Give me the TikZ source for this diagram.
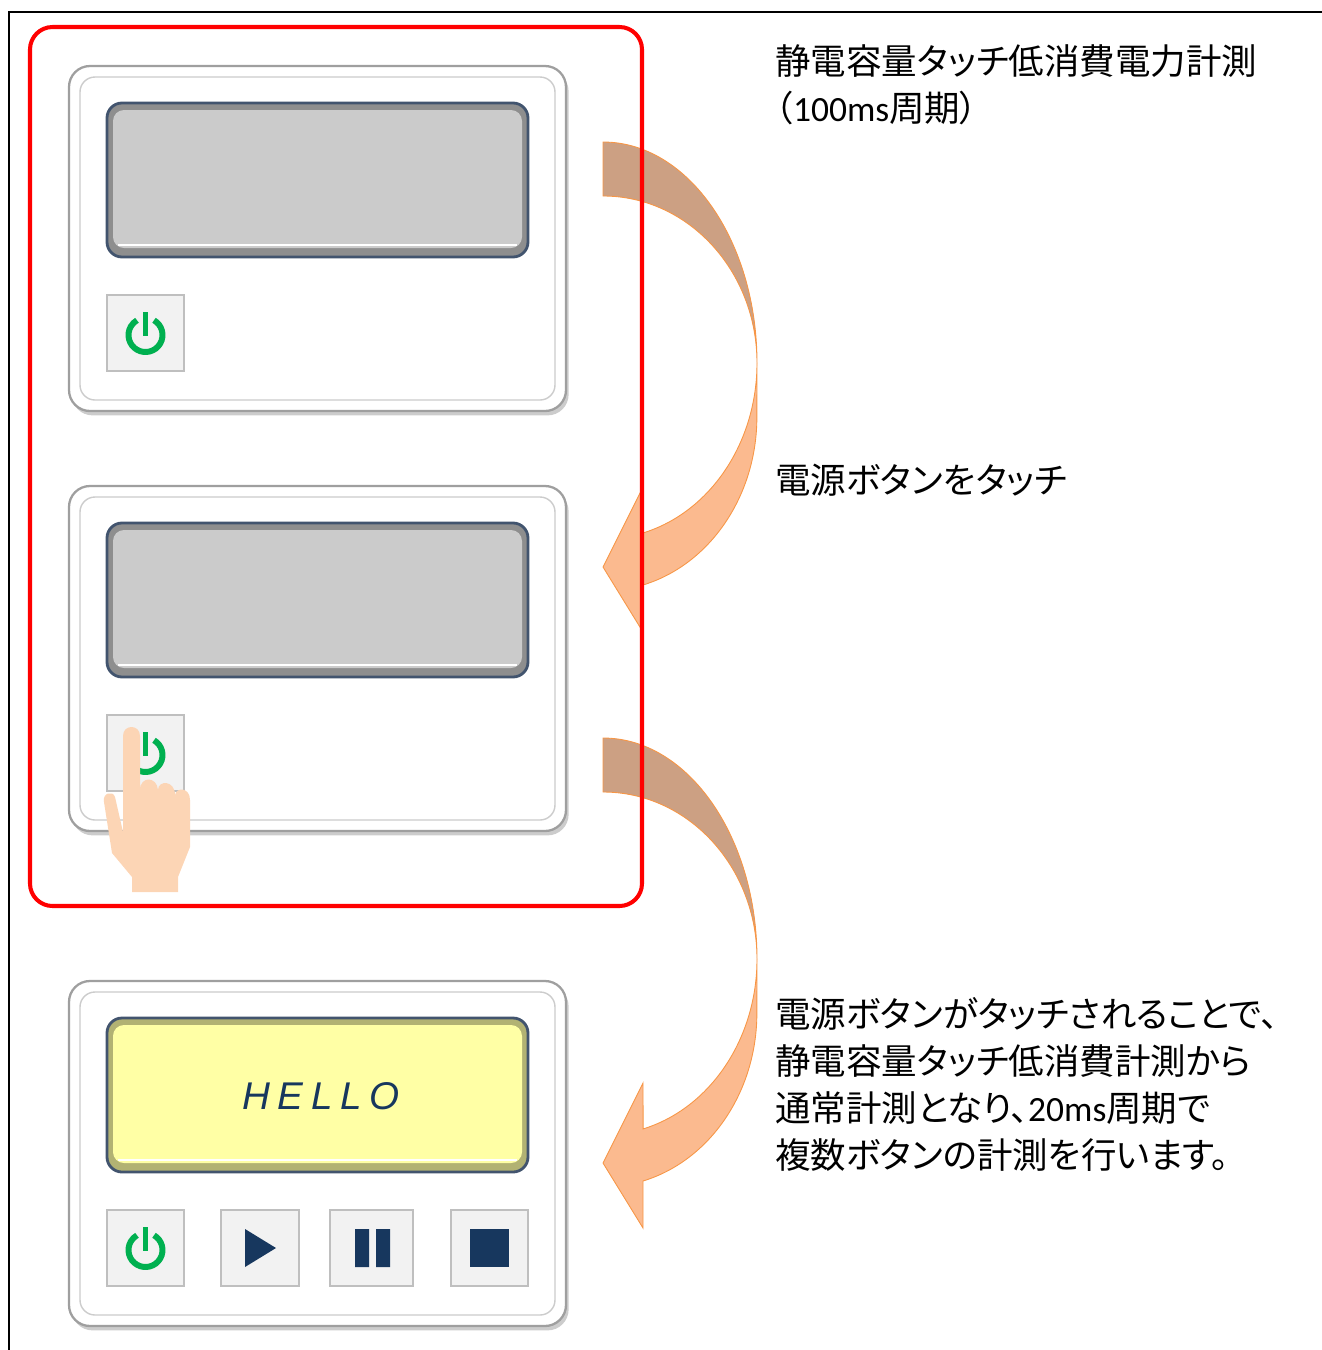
\documentclass[tikz,border=0pt]{standalone}
\usepackage{fontspec}
\newfontfamily\jpfont[RawFeature={+palt}]{Noto Sans CJK JP}
\newfontfamily\latinfont{Carlito}
\newfontfamily\lcdfont[LetterSpace=20]{Liberation Sans}
\usetikzlibrary{shadows}

\definecolor{lcdgray}{RGB}{203,203,203}
\definecolor{lcdyellow}{RGB}{255,255,165}
\definecolor{lcdrim}{RGB}{66,84,110}
\definecolor{keyfill}{RGB}{242,242,242}
\definecolor{keyline}{RGB}{191,191,191}
\definecolor{powergreen}{RGB}{0,176,80}
\definecolor{navy}{RGB}{23,55,94}
\definecolor{skin}{RGB}{252,213,181}
\definecolor{arrowback}{RGB}{204,160,131}
\definecolor{arrowfront}{RGB}{251,186,143}
\definecolor{arrowline}{RGB}{247,150,70}

\tikzset{
  case/.style={fill=white, draw=gray!75, line width=1.3pt, rounded corners=0.42cm,
    drop shadow={shadow xshift=1.5pt, shadow yshift=-2.5pt, opacity=0.4}},
  caseinner/.style={draw=gray!40, line width=0.8pt, rounded corners=0.3cm},
  key/.style={fill=keyfill, draw=keyline, line width=1.6pt},
  glyph/.style={fill=navy},
  power/.style={draw=powergreen, line width=3.4pt},
  bigarrow/.style={draw=arrowline, line width=0.5pt},
  note/.style={font=\jpfont\fontsize{20.2pt}{24pt}\selectfont, anchor=base west, inner sep=0pt,
    text height=15pt, text depth=3pt},
}

\begin{document}
\begin{tikzpicture}[x=0.02cm, y=-0.02cm]
\useasboundingbox (0,0) rectangle (1322,1350);
% page frame
\draw[line width=1.1pt] (9,1350) -- (9,12) -- (1322,12);

% curved arrows between the stages
\foreach \y in {0,596} {
\begin{scope}[shift={(0,\y)}]
\filldraw[bigarrow, fill=arrowback] (603,142) arc[start angle=-90, end angle=0, x radius=154, y radius=221]
  arc[start angle=0, end angle=-90, x radius=154, y radius=167] -- cycle;
\filldraw[bigarrow, fill=arrowfront] (757,363) arc[start angle=0, end angle=74.9, x radius=154, y radius=176]
  -- (643,487) -- (603,567) -- (643,632) -- (643,585)
  arc[start angle=74.9, end angle=0, x radius=154, y radius=174] -- cycle;
\end{scope}
}

% the three panels with display and power key
\foreach \y/\c in {0/lcdgray, 420/lcdgray, 915/lcdyellow} {
\begin{scope}[shift={(0,\y)}]
\draw[case] (69,66) rectangle (566,411);
\draw[caseinner] (80,77) rectangle (555,400);
\draw[fill=\c!70!black, draw=lcdrim, line width=1.6pt, rounded corners=0.3cm] (107,103) rectangle (528,257);
\fill[\c, rounded corners=0.22cm] (113,110) rectangle (522,248);
\draw[white, line width=1pt] (118,245) -- (517,245);
\draw[key] (107,295) rectangle (184,371);
\draw[power] (145.5,335) ++(-60:17) arc[start angle=-60, end angle=240, radius=17];
\draw[power] (145.5,312) -- (145.5,336);
\end{scope}
}

% keys of the running panel
\draw[key] (221,1210) rectangle (299,1286);
\draw[key] (330,1210) rectangle (413,1286);
\draw[key] (451,1210) rectangle (528,1286);
\fill[glyph] (245,1229) -- (276,1248) -- (245,1267) -- cycle;
\fill[glyph] (355,1229) rectangle (369,1267) (376,1229) rectangle (390,1267);
\fill[glyph] (470,1229) rectangle (509,1267);
\node[text=navy, font=\lcdfont\itshape\fontsize{22pt}{26pt}\selectfont] (hello) at (321,1096) {HELLO};

% finger on the power key
\fill[skin] (132,892) -- (132,877) -- (112,853) -- (104,802)
  .. controls (102,793) and (113,790) .. (115,797) -- (123,832) -- (123,736)
  .. controls (123,724) and (140,724) .. (140,736) -- (140,790)
  .. controls (140,776) and (157,776) .. (158,790)
  .. controls (158,780) and (175,780) .. (175,795)
  .. controls (176,787) and (190,787) .. (190,800)
  -- (190,847) -- (178,877) -- (178,892) -- cycle;

\draw[red, line width=2.3pt, rounded corners=0.45cm] (30,27) rectangle (642,906);

\node[note] (head1) at (775,74) {静電容量タッチ低消費電力計測};
\node[note] (head2) at (775,121) {（{\latinfont 100ms}周期）};
\node[note] (touch) at (775,493) {電源ボタンをタッチ};
\node[note] (line1) at (775,1027) {電源ボタンがタッチされることで、};
\node[note] (line2) at (775,1074) {静電容量タッチ低消費計測から};
\node[note] (line3) at (775,1121) {通常計測となり、{\latinfont 20ms}周期で};
\node[note] (line4) at (775,1168) {複数ボタンの計測を行います。};
\end{tikzpicture}
\end{document}
